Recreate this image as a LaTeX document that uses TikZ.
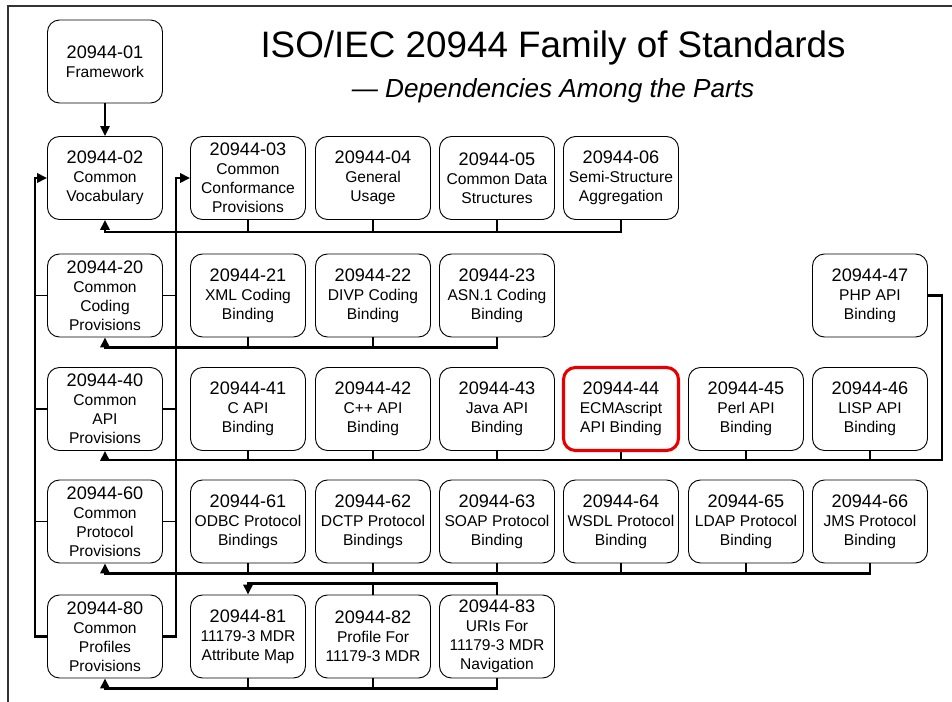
\documentclass[tikz,border=0pt]{standalone}
\usepackage{fontspec}
\setmainfont{Liberation Sans}
\usetikzlibrary{arrows.meta}
\newcommand\numf{\fontsize{13.6}{14.25}\selectfont}
\newcommand\labf{\fontsize{11.7}{14.25}\selectfont}
\definecolor{hilite}{RGB}{232,0,0}
\tikzset{
  box/.style={draw, rounded corners=9pt, minimum width=86.25pt, minimum height=62.25pt,
    align=center, font=\labf, inner sep=0pt, line width=0.7pt},
  redbox/.style={box, draw=hilite, line width=2.3pt},
  bus/.style={line width=1.8pt},
  stub/.style={line width=1.4pt},
  arr/.style={-{Triangle[length=7.5pt,width=7pt]}},
  frame/.style={draw=black!80, line width=0.8pt}
}
\begin{document}
\begin{tikzpicture}[x=0.75pt,y=-0.75pt]
\useasboundingbox (0,0) rectangle (952,702);
\fill[white] (0,0) rectangle (952,702);
\draw[frame] (8,702) -- (8,6) -- (952,6);

% title
\node[font=\fontsize{27.6}{30}\selectfont, anchor=base] (title) at (553,58) {ISO/IEC 20944 Family of Standards};
\node[font=\fontsize{19.6}{22}\selectfont\itshape, anchor=base] (sub) at (553,98) {— Dependencies Among the Parts};

% row 0
\node[box] (b01) at (105,61.5) {{\numf 20944-01}\\Framework};
% row 1
\node[box] (b02) at (105,178) {{\numf 20944-02}\\Common\\Vocabulary};
\node[box] (b03) at (248,178) {{\numf 20944-03}\\Common\\Conformance\\Provisions};
\node[box] (b04) at (373,178) {{\numf 20944-04}\\General\\Usage};
\node[box] (b05) at (497,178) {{\numf 20944-05}\\Common Data\\Structures};
\node[box] (b06) at (621,178) {{\numf 20944-06}\\Semi-Structure\\Aggregation};
% row 2
\node[box] (b20) at (105,295.5) {{\numf 20944-20}\\Common\\Coding\\Provisions};
\node[box] (b21) at (248,295.5) {{\numf 20944-21}\\XML Coding\\Binding};
\node[box] (b22) at (373,295.5) {{\numf 20944-22}\\DIVP Coding\\Binding};
\node[box] (b23) at (497,295.5) {{\numf 20944-23}\\ASN.1 Coding\\Binding};
\node[box] (b47) at (870,295.5) {{\numf 20944-47}\\PHP API\\Binding};
% row 3
\node[box] (b40) at (105,409) {{\numf 20944-40}\\Common\\API\\Provisions};
\node[box] (b41) at (248,409) {{\numf 20944-41}\\C API\\Binding};
\node[box] (b42) at (373,409) {{\numf 20944-42}\\C++ API\\Binding};
\node[box] (b43) at (497,409) {{\numf 20944-43}\\Java API\\Binding};
\node[redbox] (b44) at (621,409) {{\numf 20944-44}\\ECMAscript\\API Binding};
\node[box] (b45) at (746,409) {{\numf 20944-45}\\Perl API\\Binding};
\node[box] (b46) at (870,409) {{\numf 20944-46}\\LISP API\\Binding};
% row 4
\node[box] (b60) at (105,521.5) {{\numf 20944-60}\\Common\\Protocol\\Provisions};
\node[box] (b61) at (248,521.5) {{\numf 20944-61}\\ODBC Protocol\\Bindings};
\node[box] (b62) at (373,521.5) {{\numf 20944-62}\\DCTP Protocol\\Bindings};
\node[box] (b63) at (497,521.5) {{\numf 20944-63}\\SOAP Protocol\\Binding};
\node[box] (b64) at (621,521.5) {{\numf 20944-64}\\WSDL Protocol\\Binding};
\node[box] (b65) at (746,521.5) {{\numf 20944-65}\\LDAP Protocol\\Binding};
\node[box] (b66) at (870,521.5) {{\numf 20944-66}\\JMS Protocol\\Binding};
% row 5
\node[box] (b80) at (105,636.5) {{\numf 20944-80}\\Common\\Profiles\\Provisions};
\node[box] (b81) at (248,636.5) {{\numf 20944-81}\\11179-3 MDR\\Attribute Map};
\node[box] (b82) at (373,636.5) {{\numf 20944-82}\\Profile For\\11179-3 MDR};
\node[box] (b83) at (497,636.5) {{\numf 20944-83}\\URIs For\\11179-3 MDR\\Navigation};

% 01 -> 02
\draw[stub,arr] (b01.south) -- (b02.north);

% row 1 bus
\draw[bus,arr] (b06.south) -- ++(0,12) -| (b02.south);
\foreach \n in {b03,b04,b05} \draw[stub] (\n.south) -- ++(0,12);
% row 2 bus
\draw[bus,arr] (b23.south) -- ++(0,10) -| (b20.south);
\foreach \n in {b21,b22} \draw[stub] (\n.south) -- ++(0,10);
% row 3 bus
\draw[bus,arr] (b47.east) -- ++(14,0) |- ([yshift=-6.75pt]b41.south) -| (b40.south);
\foreach \n in {b41,b42,b43,b44,b45,b46} \draw[stub] (\n.south) -- ++(0,9);
% row 4 bus
\draw[bus,arr] (b66.south) -- ++(0,10) -| (b60.south);
\foreach \n in {b61,b62,b63,b64,b65} \draw[stub] (\n.south) -- ++(0,10);
% row 5 top
\draw[bus,arr] (b83.north) -- ++(0,-11) -| (b81.north);
\draw[stub] (b82.north) -- ++(0,-11);
% row 5 bottom bus
\draw[bus,arr] (b83.south) -- ++(0,10) -| (b80.south);
\foreach \n in {b81,b82} \draw[stub] (\n.south) -- ++(0,10);

% left trunk
\coordinate (lt) at (35,0);
\draw[bus,arr] (b80.west) -| (lt |- b02.west) -- (b02.west);
\foreach \n in {b20,b40,b60} \draw[stub] (\n.west) -- (lt |- \n.west);
% second trunk
\coordinate (rt) at (176,0);
\draw[bus,arr] (b80.east) -| (rt |- b03.west) -- (b03.west);
\foreach \n in {b20,b40,b60} \draw[stub] (\n.east) -- (rt |- \n.east);
\end{tikzpicture}
\end{document}
